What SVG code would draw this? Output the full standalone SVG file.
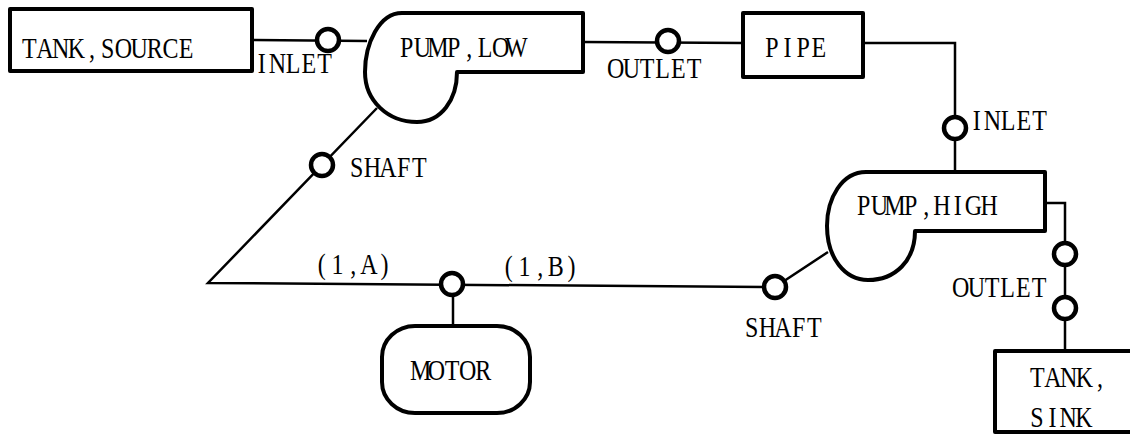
<svg xmlns="http://www.w3.org/2000/svg" width="1130" height="439" viewBox="0 0 1130 439">
  <style>
    .node { fill: #fff; stroke: #000; stroke-width: 4; stroke-linejoin: round; }
    .wire { fill: none; stroke: #000; stroke-width: 2.5; stroke-linejoin: miter; }
    .port { fill: #fff; stroke: #000; stroke-width: 4.5; }
    /* typewriter-style lettering: serif face squeezed to 80%, one glyph per 15.7px cell */
    text { font-family: "Liberation Serif", "DejaVu Serif", serif; font-size: 30px; fill: #000; text-anchor: middle; }
  </style>
  <rect width="1130" height="439" fill="#fff"/>

  <!-- connectors -->
  <g id="connectors">
    <polyline class="wire" points="252,40 367,41"/>
    <polyline class="wire" points="583,42 743,43"/>
    <polyline class="wire" points="863,43 955,43 955,172"/>
    <polyline class="wire" points="1045,203 1065,203 1065,350"/>
    <polyline class="wire" points="377,108 208,283 775,287 828,252"/>
    <polyline class="wire" points="453,290 453,326"/>
    <text transform="translate(254,73) scale(0.8,1)" x="9.8 29.4 49 68.6 88.2">INLET</text>
    <text transform="translate(607.8,78) scale(0.8,1)" x="9.8 29.4 49 68.6 88.2 107.8">OUTLET</text>
    <text transform="translate(969,130) scale(0.8,1)" x="9.8 29.4 49 68.6 88.2">INLET</text>
    <text transform="translate(952.8,297) scale(0.8,1)" x="9.8 29.4 49 68.6 88.2 107.8">OUTLET</text>
    <text transform="translate(348.8,177) scale(0.8,1)" x="9.8 29.4 49 68.6 88.2">SHAFT</text>
    <text transform="translate(743.8,337) scale(0.8,1)" x="9.8 29.4 49 68.6 88.2">SHAFT</text>
    <text transform="translate(314,274) scale(0.8,1)" x="9.8 29.4 49 68.6 88.2">(1,A)</text>
    <text transform="translate(501,276) scale(0.8,1)" x="9.8 29.4 49 68.6 88.2">(1,B)</text>
  </g>

  <!-- connection points -->
  <g id="ports">
    <circle class="port" cx="328" cy="40" r="11"/>
    <circle class="port" cx="668" cy="41" r="11"/>
    <circle class="port" cx="955" cy="128" r="11"/>
    <circle class="port" cx="1065" cy="254" r="11"/>
    <circle class="port" cx="1065" cy="308" r="11"/>
    <circle class="port" cx="322" cy="165" r="11"/>
    <circle class="port" cx="452" cy="284" r="11"/>
    <circle class="port" cx="775" cy="287" r="11"/>
  </g>

  <g id="tank-source">
    <rect class="node" x="10" y="9" width="242" height="62"/>
    <text transform="translate(21.5,58) scale(0.8,1)" x="9.8 29.4 49 68.6 88.2 107.8 127.4 147 166.6 186.2 205.8">TANK,SOURCE</text>
  </g>

  <g id="pump-low">
    <path class="node" d="M583 13 L402 13 C379 13 365 44 365 72 C365 101 388 122 417 122 C441 122 457 100 457 72 L583 72 Z"/>
    <text transform="translate(398.8,57) scale(0.8,1)" x="9.8 29.4 49 68.6 88.2 107.8 127.4 147">PUMP,LOW</text>
  </g>

  <g id="pipe">
    <rect class="node" x="743" y="13" width="120" height="64"/>
    <text transform="translate(764,57) scale(0.8,1)" x="9.8 29.4 49 68.6">PIPE</text>
  </g>

  <g id="pump-high">
    <path class="node" d="M1045 172 L866 172 C842 172 827 198 827 226 C827 258 845 280 868 280 C895 280 915 261 915 231 L1045 231 Z"/>
    <text transform="translate(855.8,215) scale(0.8,1)" x="9.8 29.4 49 68.6 88.2 107.8 127.4 147 166.6">PUMP,HIGH</text>
  </g>

  <g id="motor">
    <rect class="node" x="382" y="326" width="148" height="87" rx="33" ry="31"/>
    <text transform="translate(412.8,380) scale(0.8,1)" x="9.8 29.4 49 68.6 88.2">MOTOR</text>
  </g>

  <g id="tank-sink">
    <rect class="node" x="995" y="351" width="150" height="81"/>
    <text transform="translate(1029.5,387) scale(0.8,1)" x="9.8 29.4 49 68.6 88.2">TANK,</text>
    <text transform="translate(1029,427) scale(0.8,1)" x="9.8 29.4 49 68.6">SINK</text>
  </g>
</svg>
